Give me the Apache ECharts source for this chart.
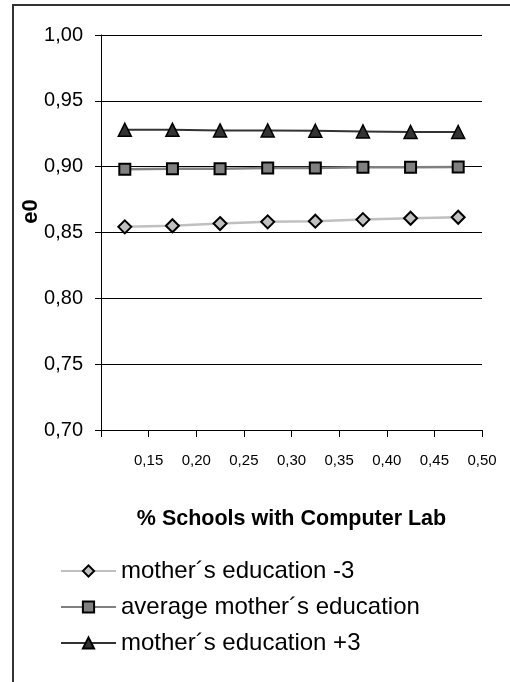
<!DOCTYPE html>
<html>
<head>
<meta charset="utf-8">
<script src="https://cdn.jsdelivr.net/npm/echarts@6/dist/echarts.min.js"></script>
<style>
html,body{margin:0;padding:0;background:#fff;}
#frame{position:absolute;left:12px;top:4px;width:520px;height:700px;border-left:2px solid #333;border-top:2px solid #333;}
#chart{position:absolute;left:0;top:0;width:510px;height:682px;}
</style>
</head>
<body>
<div id="frame"></div>
<div id="chart"></div>
<script>
const schoolShare = [0.125, 0.175, 0.225, 0.275, 0.325, 0.375, 0.425, 0.475];
const xTickLabels = ['0,15','0,20','0,25','0,30','0,35','0,40','0,45','0,50'];
const yTickLabels = ['0,70','0,75','0,80','0,85','0,90','0,95','1,00'];
const seriesNames = ['mother\u00b4s education -3', 'average mother\u00b4s education', 'mother\u00b4s education +3'];
const eduMinus3 = [0.8543, 0.8551, 0.8568, 0.8581, 0.8586, 0.8598, 0.8608, 0.8616];
const eduAverage = [0.8980, 0.8985, 0.8985, 0.8990, 0.8990, 0.8995, 0.8995, 0.8997];
const eduPlus3 = [0.9280, 0.9280, 0.9275, 0.9275, 0.9273, 0.9268, 0.9263, 0.9263];

const pair = vals => schoolShare.map((x, i) => [x, vals[i]]);
const fontFam = '"Liberation Sans", Arial, sans-serif';

const chart = echarts.init(document.getElementById('chart'), null, {renderer: 'canvas'});
chart.setOption({
  animation: false,
  backgroundColor: 'transparent',
  textStyle: {fontFamily: fontFam},
  grid: {left: 101, right: 28, top: 35, bottom: 252, containLabel: false},
  xAxis: {
    type: 'value', min: 0.10, max: 0.50, interval: 0.05,
    name: '% Schools with Computer Lab', nameLocation: 'middle', nameGap: 78,
    nameMoveOverlap: false,
    nameTextStyle: {fontFamily: fontFam, fontWeight: 'bold', fontSize: 21.5, color: '#000'},
    axisLine: {show: true, lineStyle: {color: '#000', width: 1}},
    axisTick: {show: true, length: 7, lineStyle: {color: '#000'}},
    splitLine: {show: false},
    axisLabel: {
      color: '#000', fontSize: 15, fontFamily: fontFam, margin: 23,
      showMinLabel: true, showMaxLabel: true,
      formatter: v => { const k = Math.round((v - 0.15) / 0.05); return (k >= 0 && k < xTickLabels.length) ? xTickLabels[k] : ''; }
    }
  },
  yAxis: {
    type: 'value', min: 0.70, max: 1.00, interval: 0.05,
    name: 'e0', nameLocation: 'middle', nameGap: 59, nameRotate: 90,
    nameMoveOverlap: false,
    nameTextStyle: {fontFamily: fontFam, fontWeight: 'bold', fontSize: 22, color: '#000', padding: [0, 0, 0, 42]},
    axisLine: {show: true, lineStyle: {color: '#000', width: 1}},
    axisTick: {show: true, length: 6, inside: false, lineStyle: {color: '#000'}},
    splitLine: {show: true, lineStyle: {color: '#000', width: 1}},
    axisLabel: {
      color: '#000', fontSize: 20, fontFamily: fontFam, margin: 18,
      formatter: v => { const k = Math.round((v - 0.70) / 0.05); return yTickLabels[k] || ''; }
    }
  },
  legend: {
    orient: 'vertical', left: 55, top: 553,
    itemWidth: 55, itemHeight: 14, itemGap: 10,
    textStyle: {fontFamily: fontFam, fontSize: 24, lineHeight: 26, color: '#000'},
    data: seriesNames
  },
  series: [
    {
      name: seriesNames[0], type: 'line', data: pair(eduMinus3),
      symbol: 'diamond', symbolSize: 13,
      lineStyle: {color: '#c0c0c0', width: 2.5},
      itemStyle: {color: '#c0c0c0', borderColor: '#000', borderWidth: 2},
      z: 3
    },
    {
      name: seriesNames[1], type: 'line', data: pair(eduAverage),
      symbol: 'rect', symbolSize: 11,
      lineStyle: {color: '#808080', width: 2.5},
      itemStyle: {color: '#808080', borderColor: '#000', borderWidth: 2},
      z: 3
    },
    {
      name: seriesNames[2], type: 'line', data: pair(eduPlus3),
      symbol: 'triangle', symbolSize: 13,
      lineStyle: {color: '#333333', width: 2},
      itemStyle: {color: '#333333', borderColor: '#000', borderWidth: 1.5},
      z: 3
    }
  ]
});
</script>
</body>
</html>
